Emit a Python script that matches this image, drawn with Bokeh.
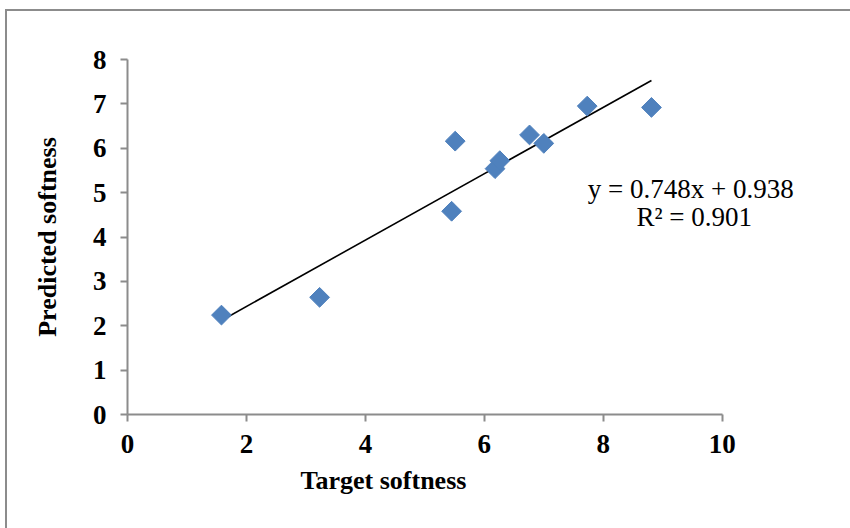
import numpy as np
from bokeh.plotting import figure
from bokeh.models import ColumnDataSource, FixedTicker, Label, Title
from bokeh.embed import file_html
from bokeh.resources import INLINE

# Data
target_softness = [1.58, 3.23, 5.45, 5.51, 6.18, 6.26, 6.76, 7.00, 7.73, 8.81]
predicted_softness = [2.24, 2.64, 4.58, 6.16, 5.54, 5.72, 6.30, 6.11, 6.95, 6.92]
trend_slope = 0.748
trend_intercept = 0.938
equation_text = "y = 0.748x + 0.938"
r2_text = "R\u00b2 = 0.901"
x_title = "Target softness"
y_title = "Predicted softness"
x_ticks = [0, 2, 4, 6, 8, 10]
y_ticks = [0, 1, 2, 3, 4, 5, 6, 7, 8]

SERIF = "Liberation Serif"
AXIS_GRAY = "#8c8c8c"

# frame extends past x=10 so the equation text is not clipped; axis bounded to 0..10
p = figure(width=843, height=517, x_range=(0, 12.14), y_range=(0, 8),
           output_backend="svg", toolbar_location=None,
           min_border_left=120, min_border_right=3,
           min_border_top=48, min_border_bottom=116)
p.styles = {"border-left": f"2px solid {AXIS_GRAY}", "border-top": f"2px solid {AXIS_GRAY}",
            "margin-left": "5px", "margin-top": "9px", "box-sizing": "content-box"}
p.outline_line_color = None
p.background_fill_color = "white"
p.border_fill_color = "white"
p.xgrid.visible = False
p.ygrid.visible = False

for ax in (p.xaxis[0], p.yaxis[0]):
    ax.axis_line_color = AXIS_GRAY
    ax.axis_line_width = 2
    ax.major_tick_line_color = AXIS_GRAY
    ax.major_tick_line_width = 2
    ax.major_tick_in = 0
    ax.major_tick_out = 7
    ax.minor_tick_line_color = None
    ax.major_label_text_font = SERIF
    ax.major_label_text_font_style = "bold"
    ax.major_label_text_font_size = "27px"
    ax.major_label_text_color = "black"
    ax.axis_label_text_font = SERIF
    ax.axis_label_text_font_style = "bold"
    ax.axis_label_text_font_size = "26px"
    ax.axis_label_text_color = "black"

p.xaxis.bounds = (0, 10)
p.xaxis.ticker = FixedTicker(ticks=x_ticks)
p.yaxis.ticker = FixedTicker(ticks=y_ticks)
p.yaxis.axis_label = y_title
p.xaxis.major_label_standoff = 13
p.yaxis.major_label_standoff = 14
p.yaxis.axis_label_standoff = 28

p.add_layout(Title(text=x_title, align="left", offset=173, standoff=17, text_font=SERIF,
                   text_font_size="26px", text_font_style="bold", text_color="black"),
             "below")

src = ColumnDataSource(data=dict(x=target_softness, y=predicted_softness))

# trend line across data range
xmin, xmax = min(target_softness), max(target_softness)
tx = [xmin, xmax]
ty = [trend_slope * v + trend_intercept for v in tx]
p.line(tx, ty, line_color="black", line_width=1.6)

p.scatter("x", "y", source=src, marker="square", angle=np.pi / 4, size=14,
          fill_color="#4F81BD", line_color="#4F81BD", line_width=1)

for txt, xx, yy in ((equation_text, 9.47, 5.08), (r2_text, 9.53, 4.44)):
    p.add_layout(Label(x=xx, y=yy, text=txt, text_font=SERIF, text_font_size="27px",
                       text_align="center", text_baseline="middle", text_color="black"))

open("out.html", "w").write(file_html(p, INLINE))
